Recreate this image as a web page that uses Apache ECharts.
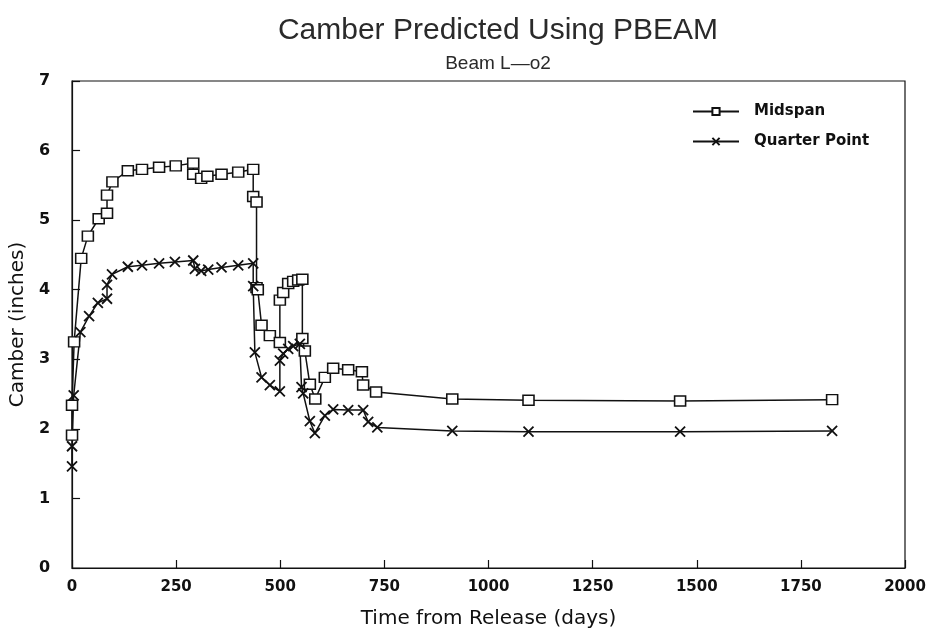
<!DOCTYPE html>
<html>
<head>
<meta charset="utf-8">
<script src="https://cdn.jsdelivr.net/npm/echarts@6/dist/echarts.min.js"></script>
<style>
  html, body { margin: 0; padding: 0; background: #fff; }
  #chart { width: 929px; height: 634px; }
</style>
</head>
<body>
<div id="chart"></div>
<script>
// Camber history of beam L-o2, days after release vs. camber in inches
const midspanDays = [0, 0, 5, 22, 38, 64, 84, 84, 97, 134, 168, 209, 249, 291, 291, 310, 325, 359, 399, 435, 435, 443, 443, 446, 455, 475, 499, 499, 507, 519, 531, 543, 553, 553, 559, 571, 584, 607, 627, 663, 696, 699, 730, 913, 1096, 1460, 1825];
const midspanCamber = [1.91, 2.34, 3.25, 4.45, 4.77, 5.02, 5.10, 5.36, 5.55, 5.71, 5.73, 5.76, 5.78, 5.82, 5.66, 5.60, 5.63, 5.66, 5.69, 5.73, 5.34, 5.26, 4.03, 4.00, 3.49, 3.34, 3.24, 3.85, 3.96, 4.09, 4.12, 4.14, 4.15, 3.30, 3.12, 2.64, 2.43, 2.74, 2.87, 2.85, 2.82, 2.63, 2.53, 2.43, 2.41, 2.40, 2.42];

const quarterDays = [0, 0, 4, 20, 41, 62, 84, 84, 96, 134, 168, 209, 247, 291, 295, 310, 327, 359, 399, 435, 435, 439, 455, 475, 499, 499, 507, 519, 531, 547, 551, 555, 571, 583, 607, 627, 663, 699, 711, 733, 913, 1096, 1460, 1825];
const quarterCamber = [1.46, 1.75, 2.48, 3.39, 3.62, 3.81, 3.87, 4.07, 4.22, 4.33, 4.35, 4.38, 4.40, 4.42, 4.30, 4.27, 4.29, 4.32, 4.35, 4.38, 4.05, 3.10, 2.74, 2.63, 2.54, 2.98, 3.08, 3.15, 3.19, 3.22, 2.60, 2.51, 2.11, 1.94, 2.19, 2.28, 2.27, 2.27, 2.10, 2.02, 1.97, 1.96, 1.96, 1.97];

const xTicks = [0, 250, 500, 750, 1000, 1250, 1500, 1750, 2000];
const yTicks = [0, 1, 2, 3, 4, 5, 6, 7];

const pairs = (xs, ys) => xs.map((x, i) => [x, ys[i]]);
const crossPath = 'path://M0,0L10,10M10,0L0,10';

const chart = echarts.init(document.getElementById('chart'));
chart.setOption({
  animation: false,
  backgroundColor: '#ffffff',
  title: [
    {
      text: 'Camber Predicted Using PBEAM',
      left: 493, top: 11, textAlign: 'center',
      textStyle: { fontFamily: 'Liberation Sans', fontWeight: 'normal', fontSize: 30, color: '#2a2a2a' }
    },
    {
      text: 'Beam L\u2014o2',
      left: 493, top: 49, textAlign: 'center',
      textStyle: { fontFamily: 'Liberation Sans', fontWeight: 'normal', fontSize: 19, color: '#2a2a2a' }
    }
  ],
  legend: {
    orient: 'vertical',
    left: 687, top: 99,
    itemWidth: 46, itemHeight: 9, itemGap: 15,
    textStyle: { fontFamily: 'DejaVu Sans', fontWeight: 'bold', fontSize: 15, color: '#111', padding: [0, 0, 0, 10] },
    data: ['Midspan', 'Quarter Point']
  },
  grid: {
    left: 70, right: 24, top: 81, bottom: 64,
    show: true, borderColor: '#111', borderWidth: 1.2, backgroundColor: 'transparent'
  },
  xAxis: {
    type: 'value', min: xTicks[0], max: xTicks[xTicks.length - 1], interval: 250,
    name: 'Time from Release (days)', nameLocation: 'middle', nameGap: 41,
    nameTextStyle: { fontFamily: 'DejaVu Sans', fontSize: 20, color: '#111' },
    axisLine: { show: true, lineStyle: { color: '#111', width: 1.2 } },
    axisTick: { show: true, inside: true, length: 8, lineStyle: { color: '#111', width: 1.2 } },
    axisLabel: { fontFamily: 'DejaVu Sans', fontWeight: 'bold', fontSize: 15, color: '#111', margin: 12, formatter: v => String(v) },
    splitLine: { show: false }
  },
  yAxis: {
    type: 'value', min: yTicks[0], max: yTicks[yTicks.length - 1], interval: 1,
    name: 'Camber (inches)', nameLocation: 'middle', nameGap: 44, nameRotate: 90,
    nameTextStyle: { fontFamily: 'DejaVu Sans', fontSize: 20, color: '#111' },
    axisLine: { show: true, lineStyle: { color: '#111', width: 1.2 } },
    axisTick: { show: true, inside: true, length: 8, lineStyle: { color: '#111', width: 1.2 } },
    axisLabel: { fontFamily: 'DejaVu Sans', fontWeight: 'bold', fontSize: 16, color: '#111', margin: 22 },
    splitLine: { show: false }
  },
  series: [
    {
      name: 'Midspan', type: 'line',
      data: pairs(midspanDays, midspanCamber),
      symbol: 'rect', symbolSize: [11, 10], showAllSymbol: true,
      lineStyle: { color: '#111', width: 1.5 },
      itemStyle: { color: '#fff', borderColor: '#111', borderWidth: 1.5 }
    },
    {
      name: 'Quarter Point', type: 'line',
      data: pairs(quarterDays, quarterCamber),
      symbol: crossPath, symbolSize: 10, showAllSymbol: true,
      lineStyle: { color: '#111', width: 1.5 },
      itemStyle: { color: '#111', borderColor: '#111', borderWidth: 1.8 }
    }
  ]
});
</script>
</body>
</html>
